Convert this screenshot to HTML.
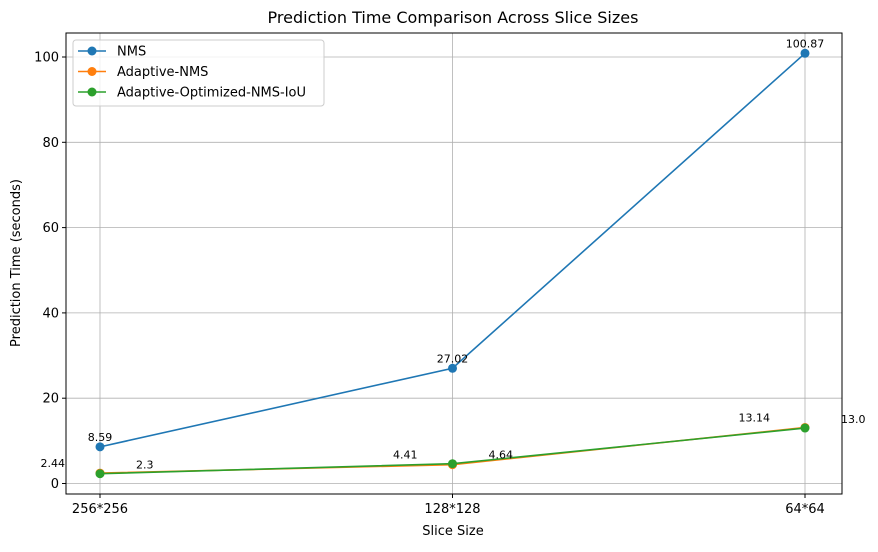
<!DOCTYPE html>
<html><head><meta charset="utf-8"><style>
body{margin:0;background:#fff;font-family:"Liberation Sans","DejaVu Sans",sans-serif}
svg text{font-family:"DejaVu Sans","Liberation Sans",sans-serif}
</style></head><body>
<svg id="c" width="878" height="547" xmlns="http://www.w3.org/2000/svg"></svg>
<script>
const categories=["256*256","128*128","64*64"];
const nmsValues=[8.59,27.02,100.87];
const adaptiveValues=[2.44,4.41,13.14];
const optimizedValues=[2.3,4.64,13.0];
const yTicks=[0,20,40,60,80,100];
const seriesNames=["NMS","Adaptive-NMS","Adaptive-Optimized-NMS-IoU"];
const colors=["#1f77b4","#ff7f0e","#2ca02c"];
const L=66,R=842,T=33,B=494;
const xs=i=>100+i*352.5;
const ys=v=>483.5-v*4.265;
const fmt=v=>Number.isInteger(v)?v.toFixed(1):String(v);
const svg=document.getElementById('c');
const NS="http://www.w3.org/2000/svg";
function mk(tag,attrs,txt){const e=document.createElementNS(NS,tag);for(const k in attrs)e.setAttribute(k,attrs[k]);if(txt!==undefined)e.textContent=txt;svg.appendChild(e);return e;}
let e;
e=mk('text',{x:453,y:23,'text-anchor':'middle','font-size':16},"Prediction Time Comparison Across Slice Sizes");


yTicks.forEach(v=>{
 e=mk('line',{x1:L,x2:R,y1:ys(v),y2:ys(v),stroke:'#b0b0b0','stroke-width':0.8});
 
 
 mk('line',{x1:L-4,x2:L,y1:ys(v),y2:ys(v),stroke:'#000'});
 e=mk('text',{x:L-7,y:ys(v)+4.5,'text-anchor':'end','font-size':13},String(v));
 
 
});
categories.forEach((c,i)=>{
 e=mk('line',{x1:xs(i),x2:xs(i),y1:T,y2:B,stroke:'#b0b0b0','stroke-width':0.8});
 
 
 mk('line',{x1:xs(i),x2:xs(i),y1:B,y2:B+4,stroke:'#000'});
 e=mk('text',{x:xs(i),y:B+19,'text-anchor':'middle','font-size':13},c);
 
 
});
e=mk('rect',{x:L,y:T,width:R-L,height:B-T,fill:'none',stroke:'#000','stroke-width':1});


e=mk('text',{x:453,y:535,'text-anchor':'middle','font-size':13},"Slice Size");


e=mk('text',{x:20,y:263,'text-anchor':'middle','font-size':13,transform:'rotate(-90 20 263)'},"Prediction Time (seconds)");


const all=[nmsValues,adaptiveValues,optimizedValues];
all.forEach((vals,s)=>{
 e=mk('polyline',{points:vals.map((v,i)=>xs(i)+','+ys(v)).join(' '),fill:'none',stroke:colors[s],'stroke-width':1.6});
 
 
 vals.forEach((v,i)=>{
  e=mk('circle',{cx:xs(i),cy:ys(v),r:4.5,fill:colors[s]});
  
  
  let a={x:xs(i),y:ys(v)-6,'text-anchor':'middle','font-size':11};
  if(s==1){a={x:xs(i)-35,y:ys(v)-6,'text-anchor':'end','font-size':11};}
  if(s==2){a={x:xs(i)+36,y:ys(v)-5,'text-anchor':'start','font-size':11};}
  e=mk('text',a,s==0?String(v):fmt(v));
  
  
 });
});
e=mk('rect',{x:73,y:40,width:251,height:66,rx:3,fill:'#fff','fill-opacity':0.8,stroke:'#ccc'});


seriesNames.forEach((n,s)=>{
 const y=51+s*20.5;
 mk('line',{x1:78,x2:106,y1:y,y2:y,stroke:colors[s],'stroke-width':1.6});
 mk('circle',{cx:92,cy:y,r:4.5,fill:colors[s]});
 e=mk('text',{x:117,y:y+4.5,'font-size':13},n);
 
 
});
</script>
</body></html>
